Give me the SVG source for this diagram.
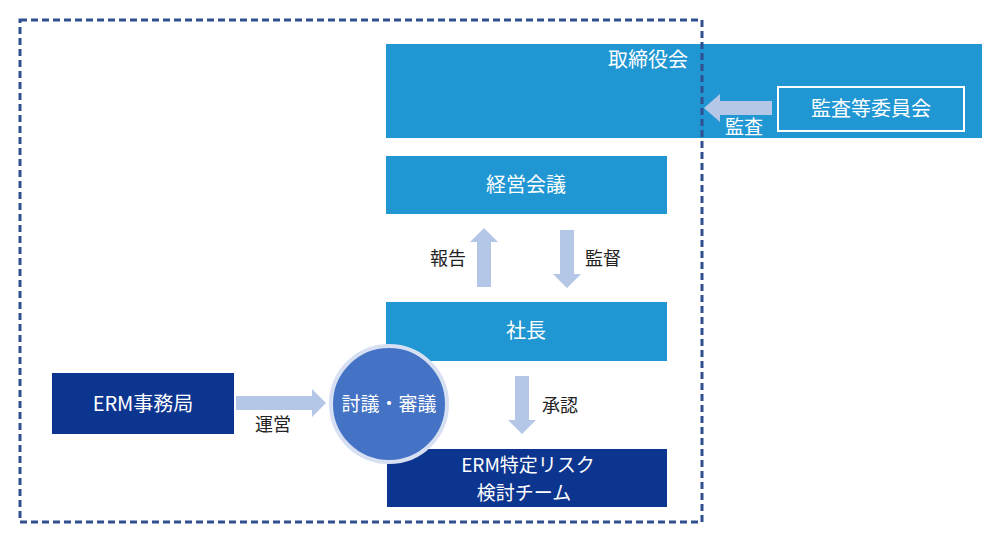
<svg xmlns="http://www.w3.org/2000/svg" width="1000" height="540" viewBox="0 0 1000 540">
<style>
.blue{fill:#2097D3}
.navy{fill:#0C3590}
.wt{fill:#fff;font-family:"Noto Sans CJK JP","Liberation Sans",sans-serif;font-size:20px;text-anchor:middle}
.lb{fill:#222;font-family:"Noto Sans CJK JP","Liberation Sans",sans-serif;font-size:18px;text-anchor:middle}
.arr{fill:#B4C7E7}
</style>
<rect width="1000" height="540" fill="#fff"/>
<g id="board">
<rect class="blue" x="386" y="44" width="596" height="94"/>
<text class="wt" x="648" y="67">取締役会</text>
</g>
<g id="audit">
<rect x="778" y="87" width="186" height="44" fill="none" stroke="#fff" stroke-width="2"/>
<text class="wt" x="871" y="116">監査等委員会</text>
</g>
<g id="mgmt">
<rect class="blue" x="386" y="156" width="281" height="58"/>
<text class="wt" x="526" y="192">経営会議</text>
</g>
<g id="president">
<rect class="blue" x="386" y="302" width="281" height="59"/>
<text class="wt" x="526" y="338">社長</text>
</g>
<g id="team">
<rect class="navy" x="387" y="449" width="280" height="58"/>
<text class="wt" x="528" y="472" style="font-size:19px">ERM特定リスク</text>
<text class="wt" x="524" y="500" style="font-size:19px">検討チーム</text>
</g>
<g id="office">
<rect class="navy" x="52" y="373" width="182" height="61"/>
<text class="wt" x="143" y="411">ERM事務局</text>
</g>
<g id="connectors">
<polygon class="arr" points="772,101 720,101 720,94 704,108 720,122 720,115 772,115"/>
<text class="wt" x="744" y="134" style="font-size:19px">監査</text>
<polygon class="arr" points="477,287 477,242 470,242 484,228 498,242 491,242 491,287"/>
<text class="lb" x="448" y="265">報告</text>
<polygon class="arr" points="560,230 560,274 553,274 567,288 581,274 574,274 574,230"/>
<text class="lb" x="603" y="265">監督</text>
<polygon class="arr" points="515,376 515,420 508,420 522,434 536,420 529,420 529,376"/>
<text class="lb" x="560" y="412">承認</text>
<polygon class="arr" points="236,396 312,396 312,389 326,403 312,417 312,410 236,410"/>
<text class="lb" x="273" y="431">運営</text>
</g>
<g id="discussion">
<circle cx="389" cy="404" r="58" fill="#4472C4" stroke="#D6E0F2" stroke-width="4"/>
<text class="wt" x="389" y="411" style="font-size:19px">討議・審議</text>
</g>
<rect x="20" y="20" width="682" height="502" fill="none" stroke="#2F4F8F" stroke-width="3" stroke-dasharray="7,4"/>
</svg>
